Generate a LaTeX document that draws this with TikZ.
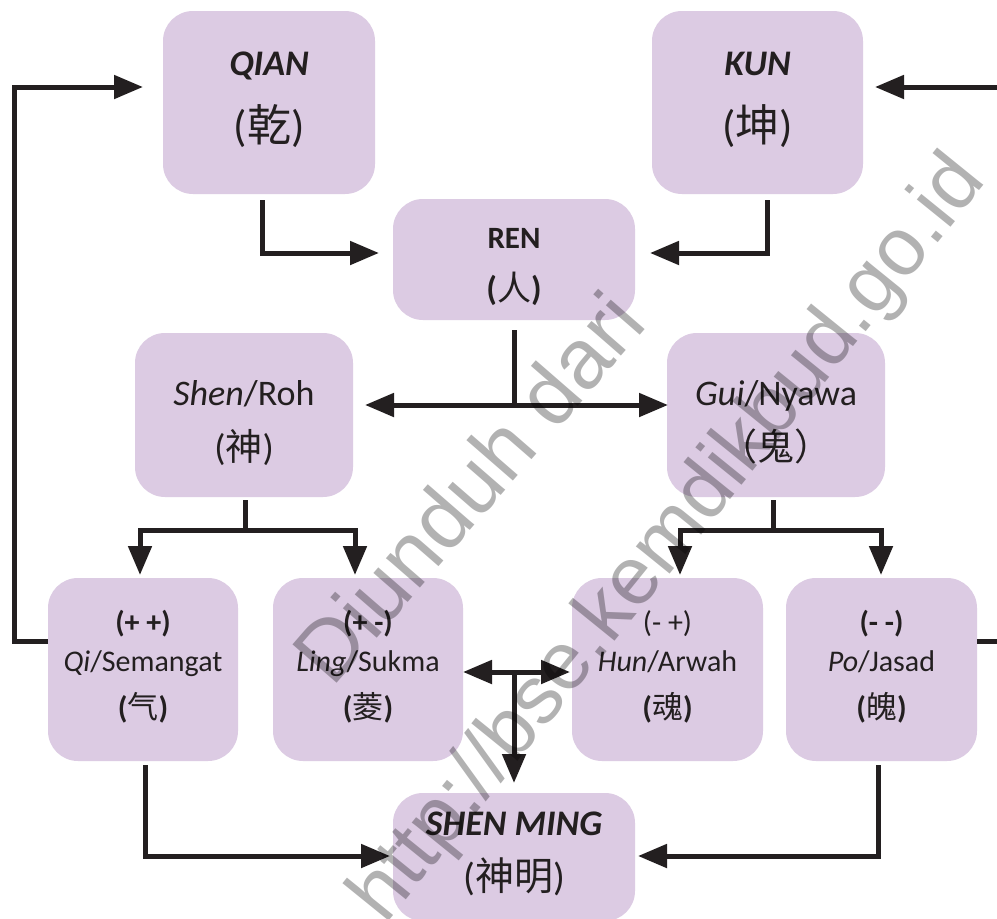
\documentclass[tikz,border=0pt]{standalone}
\usepackage{fontspec}
\setmainfont{Carlito}
\newfontfamily\cjk{Noto Sans CJK SC}
\newfontfamily\wmfont{Liberation Sans}
\usetikzlibrary{arrows.meta}
\definecolor{boxc}{HTML}{DCCBE3}
\definecolor{ink}{HTML}{231F20}
\newcommand\fsz[1]{\fontsize{#1}{#1}\selectfont}

\begin{document}
\begin{tikzpicture}[x=1pt,y=-1pt,
  box/.style={fill=boxc, rounded corners=30pt, inner sep=0pt, outer sep=0pt},
  lbl/.style={anchor=base, inner sep=0pt, text=ink},
  conn/.style={draw=ink, line width=5pt},
  arr/.style={conn, -{Triangle[length=29pt,width=23pt]}},
  darr/.style={conn, {Triangle[length=29pt,width=23pt]}-{Triangle[length=29pt,width=23pt]}},
  wm/.style={font=\wmfont\fsz{#1}, text=black, text opacity=0.3, inner sep=0pt}
]
\useasboundingbox[fill=white] (0,0) rectangle (997,919);

% ---- boxes ----
\node[box, minimum width=212pt, minimum height=183pt] (qian) at (269,102.5) {};
\node[box, minimum width=211pt, minimum height=183pt] (kun)  at (757.5,102.5) {};
\node[box, minimum width=242pt, minimum height=121pt] (ren)  at (514,259.5) {};
\node[box, minimum width=218pt, minimum height=164pt] (shen) at (244,415) {};
\node[box, minimum width=218pt, minimum height=164pt] (gui)  at (776,415) {};
\node[box, minimum width=190pt, minimum height=183pt] (qi)   at (143,669.5) {};
\node[box, minimum width=190pt, minimum height=183pt] (ling) at (368,669.5) {};
\node[box, minimum width=191pt, minimum height=183pt] (hun)  at (667.5,669.5) {};
\node[box, minimum width=191pt, minimum height=183pt] (po)   at (881.5,669.5) {};
\node[box, minimum width=242pt, minimum height=128pt] (ming) at (514,857) {};

% ---- labels ----
\node[lbl] (qianA) at (qian.center |- 0,75)  {\fsz{36}\bfseries\itshape QIAN};
\node[lbl] (qianB) at (qian.center |- 0,141) {\fsz{44}({\cjk 乾})};
\node[lbl] (kunA)  at (kun.center |- 0,75)   {\fsz{36}\bfseries\itshape KUN};
\node[lbl] (kunB)  at (kun.center |- 0,141)  {\fsz{44}({\cjk 坤})};
\node[lbl] (renA)  at (ren.center |- 0,248)  {\fsz{31}\bfseries REN};
\node[lbl] (renB)  at (ren.center |- 0,300)  {\fsz{34}\bfseries({\cjk\mdseries 人})};
\node[lbl] (shenA) at (shen.center |- 0,405) {\fsz{36}\textit{Shen}/Roh};
\node[lbl] (shenB) at (shen.center |- 0,460) {\fsz{37}({\cjk 神})};
\node[lbl] (guiA)  at (gui.center |- 0,405)  {\fsz{36}\textit{Gui}/Nyawa};
\node[lbl] (guiB)  at (gui.center |- 0,460)  {\fsz{37}{\cjk （鬼）}};

\node[lbl] (qiA)   at (qi.center |- 0,632)   {\fsz{30}\bfseries(+ +)};
\node[lbl] (qiB)   at (qi.center |- 0,671)   {\fsz{30}\textit{Qi}/Semangat};
\node[lbl] (qiC)   at (qi.center |- 0,718)   {\fsz{31}\bfseries({\cjk\mdseries 气})};
\node[lbl] (lingA) at (ling.center |- 0,632) {\fsz{30}\bfseries(+ -)};
\node[lbl] (lingB) at (ling.center |- 0,671) {\fsz{30}\textit{Ling}/Sukma};
\node[lbl] (lingC) at (ling.center |- 0,718) {\fsz{31}\bfseries({\cjk\mdseries 菱})};
\node[lbl] (hunA)  at (hun.center |- 0,632)  {\fsz{30}(- +)};
\node[lbl] (hunB)  at (hun.center |- 0,671)  {\fsz{30}\textit{Hun}/Arwah};
\node[lbl] (hunC)  at (hun.center |- 0,718)  {\fsz{31}\bfseries({\cjk\mdseries 魂})};
\node[lbl] (poA)   at (po.center |- 0,632)   {\fsz{30}\bfseries(- -)};
\node[lbl] (poB)   at (po.center |- 0,671)   {\fsz{30}\textit{Po}/Jasad};
\node[lbl] (poC)   at (po.center |- 0,718)   {\fsz{31}\bfseries({\cjk\mdseries 魄})};

\node[lbl] (mingA) at (ming.center |- 0,835) {\fsz{36}\bfseries\itshape SHEN MING};
\node[lbl] (mingB) at (ming.center |- 0,890) {\fsz{39}({\cjk 神明})};

% ---- junction points ----
\coordinate (jren)  at (ren.south |- 0,405);
\coordinate (jshen) at (245,530);
\coordinate (jgui)  at (773,530);
\coordinate (jmid)  at (ming.north |- 0,672);

% ---- connectors ----
% outer feedback loops
\draw[arr, shorten >=20pt] (qi.west |- 0,641) -| (14,87) -- (qian.west |- 0,87);
\draw[arr, shorten >=12pt] (po.east |- 0,641) -| (1004,87) -- (kun.east |- 0,87);
% heaven and earth into man
\draw[arr, shorten <=6pt, shorten >=14pt] (qian.south -| 262,0) |- (ren.west |- 0,253);
\draw[arr, shorten <=6pt, shorten >=15pt] (kun.south -| 767,0) |- (ren.east |- 0,253);
% man splits into shen and gui
\draw[conn, shorten <=10pt] (ren.south) -- (jren);
\draw[darr, shorten <=12pt, shorten >=-1pt] (shen.east |- jren) -- (gui.west |- jren);
% shen branches
\draw[conn, shorten <=3pt] (shen.south -| jshen) -- (jshen);
\draw[arr, shorten >=3pt] (jshen) -| (qi.north -| 140,0);
\draw[arr, shorten >=3pt] (jshen) -| (ling.north -| 355,0);
% gui branches
\draw[conn, shorten <=3pt] (gui.south -| jgui) -- (jgui);
\draw[arr, shorten >=3pt] (jgui) -| (hun.north -| 680,0);
\draw[arr, shorten >=3pt] (jgui) -| (po.north -| 881,0);
% ling <-> hun and down to shen ming
\draw[darr, shorten >=2pt] (ling.east |- jmid) -- (hun.west |- jmid);
\draw[arr, shorten >=10pt] (jmid) -- (ming.north);
% qi and po into shen ming
\draw[arr, shorten <=4pt, shorten >=3pt] (qi.south -| 145,0) |- (ming.west |- 0,856);
\draw[arr, shorten <=4pt, shorten >=3pt] (po.south -| 878,0) |- (ming.east |- 0,856);

% ---- source stamp ----
\node[wm=85, rotate=49] (wm1) at (468,487) {Diunduh dari};
\node[wm=82, rotate=51] (wm2) at (670,540) {http://bse.kemdikbud.go.id};
\end{tikzpicture}
\end{document}
